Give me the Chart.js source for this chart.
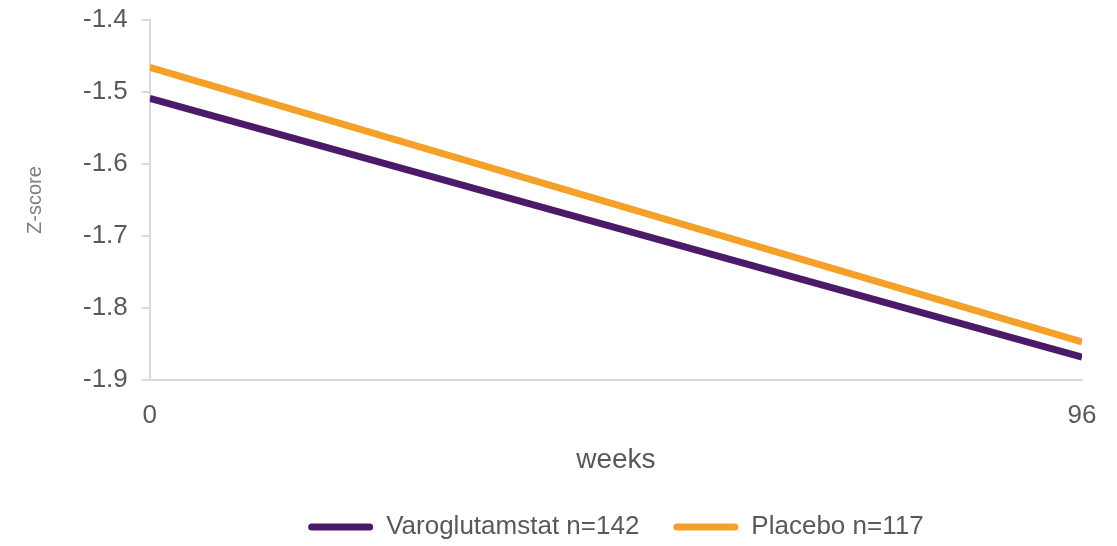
<!DOCTYPE html>
<html>
<head>
<meta charset="utf-8">
<script src="https://cdn.jsdelivr.net/npm/chart.js@4"></script>
<style>
  html, body { margin: 0; padding: 0; background: #fff; }
  #wrap { width: 1117px; height: 546px; position: relative; }
</style>
</head>
<body>
<div id="wrap"><canvas id="zscore"></canvas></div>
<script>
var weeks = [0, 96];
var varoglutamstat = [-1.509, -1.868];
var placebo = [-1.466, -1.847];
var seriesNames = ['Varoglutamstat n=142', 'Placebo n=117'];
var xTicks = [0, 96];

var grey = '#595959';

function toPoints(xs, ys) {
  var pts = [];
  for (var i = 0; i < xs.length; i++) {
    pts.push({ x: xs[i], y: ys[i] });
  }
  return pts;
}

var ctx = document.getElementById('zscore');

new Chart(ctx, {
  type: 'line',
  data: {
    datasets: [
      {
        label: seriesNames[0],
        data: toPoints(weeks, varoglutamstat),
        borderColor: '#4b1a69',
        backgroundColor: '#4b1a69',
        borderWidth: 7,
        pointRadius: 0
      },
      {
        label: seriesNames[1],
        data: toPoints(weeks, placebo),
        borderColor: '#f4a029',
        backgroundColor: '#f4a029',
        borderWidth: 7,
        pointRadius: 0
      }
    ]
  },
  options: {
    responsive: true,
    maintainAspectRatio: false,
    animation: false,
    layout: {
      padding: { left: 10, right: 35, top: 0, bottom: -4 }
    },
    plugins: {
      legend: {
        position: 'bottom',
        fullSize: false,
        labels: {
          boxWidth: 65,
          boxHeight: 7,
          padding: 34,
          useBorderRadius: true,
          borderRadius: 3.5,
          color: grey,
          font: { family: 'Liberation Sans', size: 26 },
          generateLabels: function (chart) {
            var items = Chart.defaults.plugins.legend.labels.generateLabels(chart);
            items.forEach(function (it) { it.lineWidth = 0; });
            return items;
          }
        }
      },
      tooltip: { enabled: false }
    },
    scales: {
      x: {
        type: 'linear',
        min: 0,
        max: 96,
        afterBuildTicks: function (axis) {
          axis.ticks = xTicks.map(function (v) { return { value: v }; });
        },
        grid: { display: false, drawTicks: false },
        border: { display: true, color: '#d9d9d9', width: 2 },
        ticks: {
          color: grey,
          padding: 20,
          maxRotation: 0,
          font: { family: 'Liberation Sans', size: 26 }
        },
        title: {
          display: true,
          text: 'weeks',
          color: grey,
          padding: { top: -8, bottom: 3 },
          font: { family: 'Liberation Sans', size: 28 }
        }
      },
      y: {
        min: -1.9,
        max: -1.4,
        ticks: {
          stepSize: 0.1,
          color: grey,
          padding: 14,
          font: { family: 'Liberation Sans', size: 26, lineHeight: 0.45 },
          callback: function (v) { return v.toFixed(1); }
        },
        grid: {
          drawOnChartArea: false,
          tickLength: 8,
          color: '#d9d9d9',
          lineWidth: 2
        },
        border: { display: true, color: '#d9d9d9', width: 2 },
        title: {
          display: true,
          text: 'Z-score',
          color: '#808080',
          padding: { top: 13, bottom: 22 },
          font: { family: 'Liberation Sans', size: 20 }
        }
      }
    }
  }
});
</script>
</body>
</html>
